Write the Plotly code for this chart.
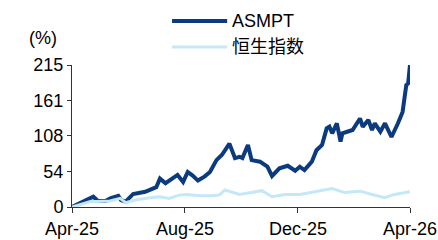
import plotly.graph_objects as go

asmpt_dates = ["2025-04-01","2025-04-11","2025-04-24","2025-04-29","2025-05-07","2025-05-13","2025-05-21","2025-05-24","2025-05-29","2025-06-06","2025-06-19","2025-07-01","2025-07-05","2025-07-11","2025-07-24","2025-07-30","2025-08-04","2025-08-09","2025-08-15","2025-08-22","2025-08-28","2025-09-04","2025-09-10","2025-09-18","2025-09-24","2025-09-29","2025-10-02","2025-10-08","2025-10-12","2025-10-21","2025-10-29","2025-11-03","2025-11-11","2025-11-20","2025-11-28","2025-12-03","2025-12-08","2025-12-16","2025-12-21","2025-12-27","2026-01-01","2026-01-04","2026-01-07","2026-01-12","2026-01-16","2026-01-18","2026-01-24","2026-01-29","2026-02-06","2026-02-09","2026-02-15","2026-02-19","2026-02-22","2026-02-28","2026-03-05","2026-03-12","2026-03-19","2026-03-24","2026-03-28","2026-03-30","2026-04-01"]
asmpt_values = [0,6.5,15.6,9,9,13.6,17,10.6,8,19.7,23,30,43,36,48.5,38,53,48,40,46,53,71,79,96,74,76,74,94,71,68.6,61,47,58.6,62.5,55,61,56,68.6,86,94,119,121.5,111.6,126.7,99,111.6,114,116.6,134,121.5,131.7,116.6,126.7,114,126.7,106,126.7,144,184.7,187,215]

hsi_dates = ["2025-04-01","2025-04-20","2025-05-12","2025-05-23","2025-05-29","2025-06-08","2025-06-24","2025-07-05","2025-07-15","2025-07-26","2025-08-03","2025-08-17","2025-08-28","2025-09-07","2025-09-13","2025-09-29","2025-10-10","2025-10-23","2025-11-03","2025-11-17","2025-12-03","2025-12-14","2025-12-25","2026-01-07","2026-01-20","2026-02-06","2026-02-19","2026-03-05","2026-03-15","2026-04-01"]
hsi_values = [0,8,9,13,6.5,10.6,14,15.6,13,18,19,17,17,18,25.7,19,21.6,24.7,15.6,19,19,21.6,24,28,22,24,19,14,19,23]

series_names = ["ASMPT", "恒生指数"]
series_colors = ["#0B3A7E", "#C4E8F8"]
series_widths = [4, 3]

y_ticks = [0, 54, 108, 161, 215]
x_tickvals = ["2025-04-01", "2025-08-01", "2025-12-01", "2026-04-01"]
x_ticktext = ["Apr-25", "Aug-25", "Dec-25", "Apr-26"]

FONT = "Arial, Liberation Sans, Noto Sans CJK SC, sans-serif"

fig = go.Figure()
for name, xs, ys, c, w in zip(series_names, [asmpt_dates, hsi_dates], [asmpt_values, hsi_values],
                              series_colors, series_widths):
    fig.add_trace(go.Scatter(x=xs, y=ys, mode="lines", name=name, showlegend=False,
                             line=dict(color=c, width=w)))

# manual legend (paper coordinates) placed above the plot area
legend_y = [1.31, 1.127]
shapes = []
annotations = []
for name, c, w, ly in zip(series_names, series_colors, series_widths, legend_y):
    shapes.append(dict(type="line", xref="paper", yref="paper", x0=0.296, x1=0.459, y0=ly, y1=ly,
                       line=dict(color=c, width=w)))
    annotations.append(dict(text=name, xref="paper", yref="paper", x=0.468, y=ly,
                            xanchor="left", yanchor="middle", showarrow=False,
                            font=dict(size=18, color="black")))
annotations.append(dict(text="(%)", xref="paper", yref="paper", x=-0.086, y=1.19,
                        xanchor="center", yanchor="middle", showarrow=False,
                        font=dict(size=18, color="black")))

fig.update_layout(
    template="none",
    width=438, height=240,
    margin=dict(l=72, r=28, t=65, b=33, autoexpand=False),
    paper_bgcolor="white", plot_bgcolor="white",
    font=dict(family=FONT, size=18, color="black"),
    showlegend=False,
    xaxis=dict(range=["2025-04-01", "2026-04-01"], tickvals=x_tickvals, ticktext=x_ticktext,
               showgrid=False, zeroline=False, showline=True, linecolor="#333333", linewidth=1,
               ticks="outside", ticklen=5, tickcolor="#333333", automargin=False),
    yaxis=dict(range=[0, 215], tickvals=y_ticks, showgrid=False, zeroline=False,
               showline=True, linecolor="#333333", linewidth=1,
               ticks="outside", ticklen=4, tickcolor="#333333", automargin=False),
    shapes=shapes,
    annotations=annotations,
)

fig.write_html("out.html", config={"displayModeBar": False},
               post_script="document.body.style.margin='0';document.body.style.padding='0';")
